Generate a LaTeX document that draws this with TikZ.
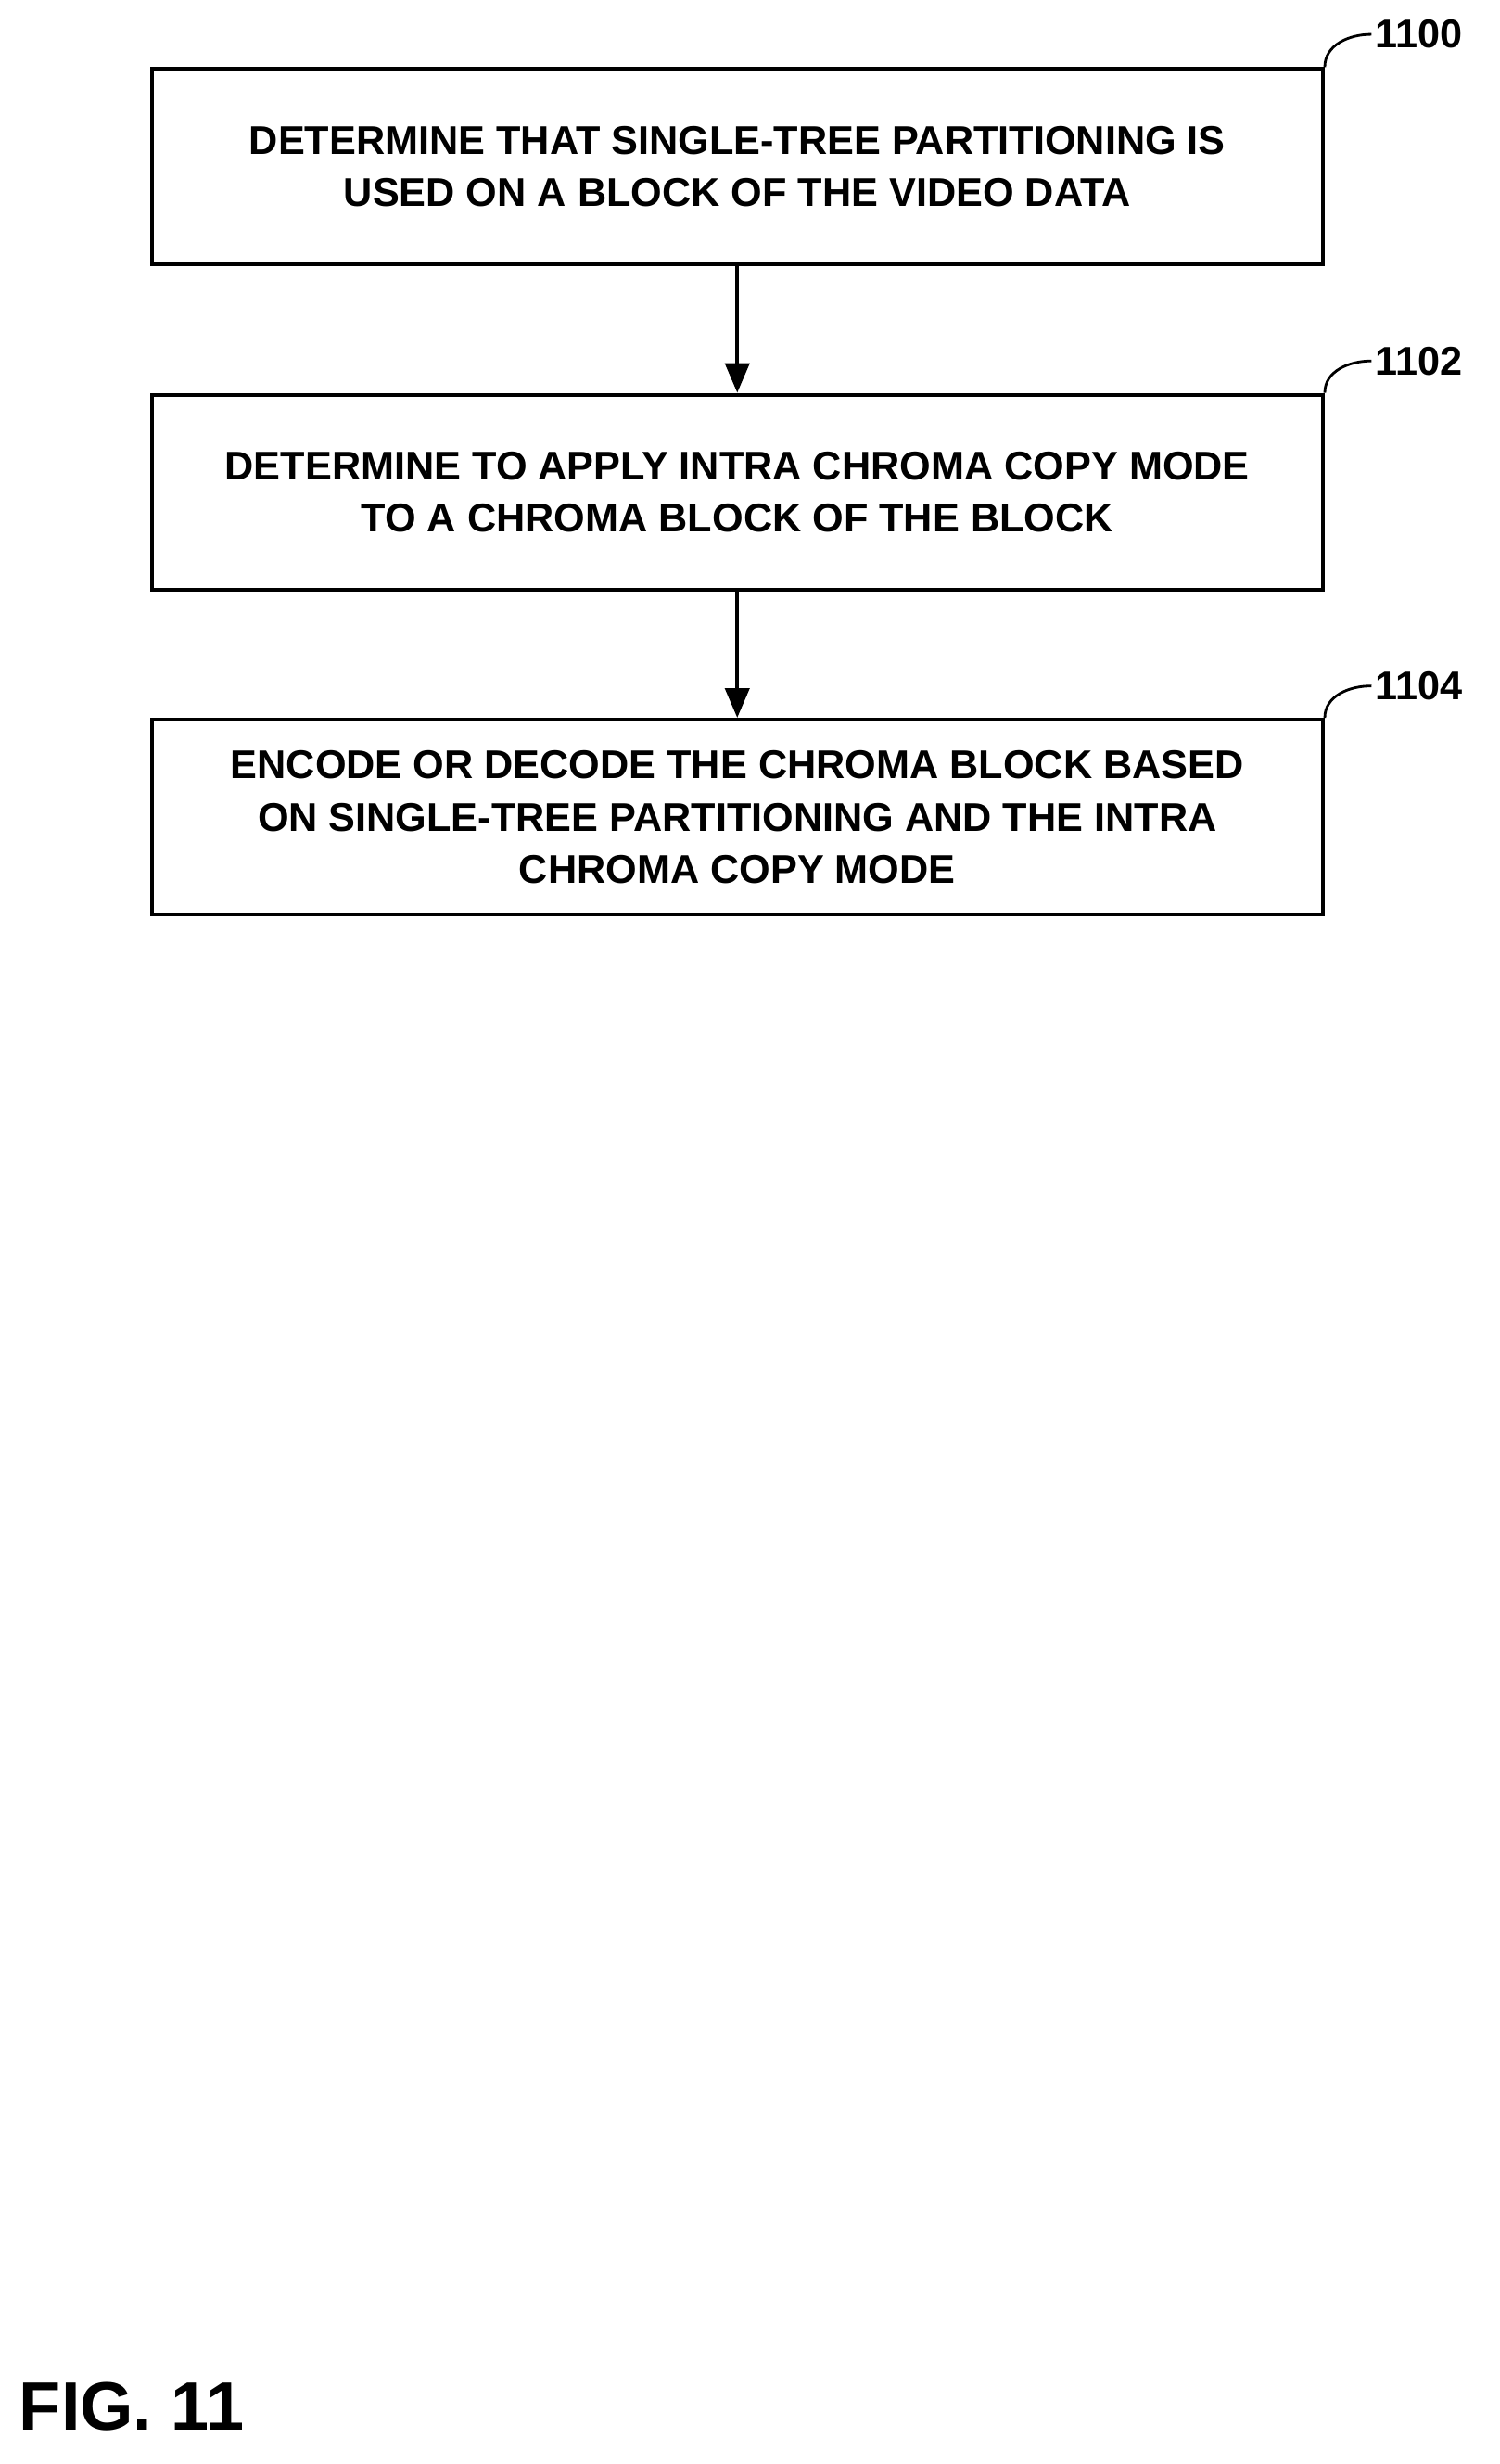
\documentclass[tikz,border=0pt]{standalone}
\usepackage{fontspec}
\setmainfont{Liberation Sans}
\usetikzlibrary{arrows.meta}
\tikzset{
  stepbox/.style={draw, line width=1.2pt, minimum width=12.63cm, minimum height=2.1cm,
    align=center, font=\bfseries\fontsize{12.3}{16}\selectfont},
  reflabel/.style={anchor=west, font=\bfseries\fontsize{12.3}{14}\selectfont, inner sep=1pt},
  flow/.style={-{Triangle[length=3.2mm,width=2.6mm]}, line width=1.2pt}
}
\begin{document}
\begin{tikzpicture}[x=0.016844cm, y=-0.016844cm]
\useasboundingbox (0,0) rectangle (960,1577);
\node[stepbox] at (472,106.5) (s1) {DETERMINE THAT SINGLE-TREE PARTITIONING IS\\USED ON A BLOCK OF THE VIDEO DATA};
\node[stepbox] at (472,315) (s2) {DETERMINE TO APPLY INTRA CHROMA COPY MODE\\TO A CHROMA BLOCK OF THE BLOCK};
\node[stepbox] at (472,523) (s3) {ENCODE OR DECODE THE CHROMA BLOCK BASED\\ON SINGLE-TREE PARTITIONING AND THE INTRA\\CHROMA COPY MODE};

\node[reflabel] at (878,22) (l1) {1100};
\node[reflabel] at (878,231) (l2) {1102};
\node[reflabel] at (878,439) (l3) {1104};

\draw[line width=0.8pt] (s1.north east) to[out=90,in=180] (l1.west);
\draw[line width=0.8pt] (s2.north east) to[out=90,in=180] (l2.west);
\draw[line width=0.8pt] (s3.north east) to[out=90,in=180] (l3.west);

\draw[flow] (s1) -- (s2);
\draw[flow] (s2) -- (s3);

\node[anchor=west, font=\bfseries\fontsize{21}{24}\selectfont, inner sep=0pt] at (12,1540) (fig) {FIG. 11};
\end{tikzpicture}
\end{document}
